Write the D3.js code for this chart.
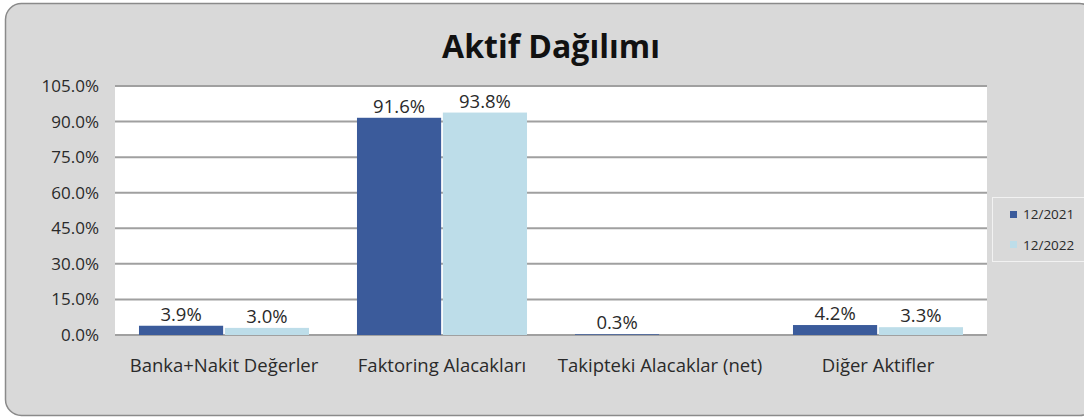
<!DOCTYPE html>
<html>
<head>
<meta charset="utf-8">
<script src="https://cdn.jsdelivr.net/npm/d3@7"></script>
<style>
  body { margin: 0; background: #fff; }
  svg text { font-family: "Open Sans", "Noto Sans", sans-serif; }
</style>
</head>
<body>
<script>
var categories = ["Banka+Nakit Değerler", "Faktoring Alacakları", "Takipteki Alacaklar (net)", "Diğer Aktifler"];
var seriesNames = ["12/2021", "12/2022"];
var values2021 = [3.9, 91.6, 0.3, 4.2];
var values2022 = [3.0, 93.8, 0.0, 3.3];
var yTicks = [0, 15, 30, 45, 60, 75, 90, 105];
var colors = ["#3b5b9b", "#bddde9"];

var W = 1084, H = 419;
var svg = d3.select("body").append("svg").attr("width", W).attr("height", H);

// outer chart area
svg.append("rect")
  .attr("x", 5.5).attr("y", 3.5)
  .attr("width", 1090).attr("height", 412)
  .attr("rx", 16).attr("ry", 16)
  .attr("fill", "#d9d9d9")
  .attr("stroke", "#8a8a8a")
  .attr("stroke-width", 1.5);

svg.append("text")
  .attr("x", 551).attr("y", 58)
  .attr("text-anchor", "middle")
  .attr("font-size", 32).attr("font-weight", "bold")
  .attr("fill", "#111")
  .text("Aktif Dağılımı");

var plot = { left: 115, right: 987, top: 86, bottom: 335 };

var x = d3.scaleBand().domain(categories).range([plot.left, plot.right]).paddingInner(0.22).paddingOuter(0.11);
var xs = d3.scaleBand().domain(seriesNames).range([0, x.bandwidth()]).paddingInner(0.02);
var y = d3.scaleLinear().domain([0, 105]).range([plot.bottom, plot.top]);

svg.append("rect")
  .attr("x", plot.left).attr("y", plot.top)
  .attr("width", plot.right - plot.left).attr("height", plot.bottom - plot.top)
  .attr("fill", "#fff");

// gridlines
svg.append("g").selectAll("line").data(yTicks).enter().append("line")
  .attr("x1", plot.left).attr("x2", plot.right)
  .attr("y1", function(d){ return y(d); }).attr("y2", function(d){ return y(d); })
  .attr("stroke", "#a0a0a0").attr("stroke-width", 2);

var yAxis = svg.append("g")
  .attr("transform", "translate(" + plot.left + ",0)")
  .call(d3.axisLeft(y).tickValues(yTicks).tickSize(0).tickPadding(16).tickFormat(function(d){ return d.toFixed(1) + "%"; }));
yAxis.select(".domain").remove();
yAxis.selectAll("text").attr("font-size", 17).attr("fill", "#2a2a2a");

var xAxis = svg.append("g")
  .attr("transform", "translate(0," + plot.bottom + ")")
  .call(d3.axisBottom(x).tickSize(0).tickPadding(24));
xAxis.select(".domain").remove();
xAxis.selectAll("text").attr("font-size", 18.5).attr("fill", "#2a2a2a");

var series = [values2021, values2022];
series.forEach(function(vals, si){
  var g = svg.append("g");
  vals.forEach(function(v, i){
    if (v <= 0) return;
    var bx = x(categories[i]) + xs(seriesNames[si]);
    g.append("rect")
      .attr("x", bx).attr("y", y(v))
      .attr("width", xs.bandwidth()).attr("height", y(0) - y(v))
      .attr("fill", colors[si]);
    g.append("text")
      .attr("x", bx + xs.bandwidth() / 2)
      .attr("y", y(v) - 5)
      .attr("text-anchor", "middle")
      .attr("font-size", 18.5).attr("fill", "#2a2a2a")
      .text(v.toFixed(1) + "%");
  });
});

// legend
var lg = svg.append("g");
lg.append("rect")
  .attr("x", 992.5).attr("y", 197.5).attr("width", 100).attr("height", 64)
  .attr("fill", "#d9d9d9").attr("stroke", "#f2f2f2").attr("stroke-width", 1);
seriesNames.forEach(function(s, i){
  lg.append("rect")
    .attr("x", 1010).attr("y", 211 + i * 30).attr("width", 7).attr("height", 7)
    .attr("fill", colors[i]);
  lg.append("text")
    .attr("x", 1023).attr("y", 219 + i * 31)
    .attr("font-size", 13.5).attr("fill", "#2a2a2a")
    .text(s);
});
</script>
</body>
</html>
